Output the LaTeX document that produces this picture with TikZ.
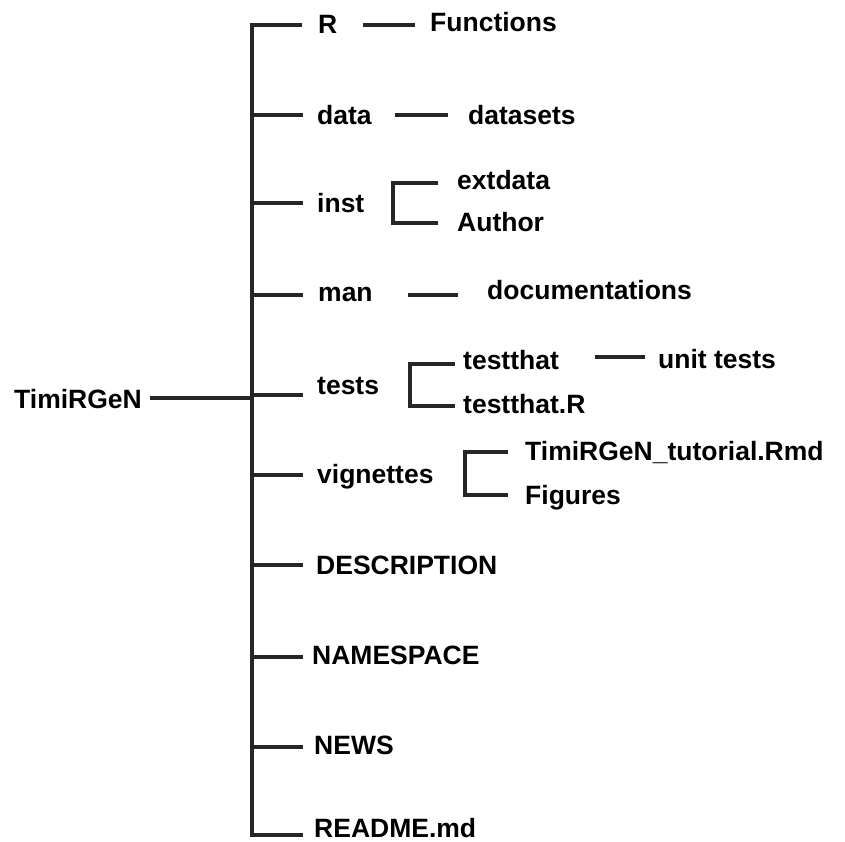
\documentclass[tikz,border=0pt]{standalone}
\usepackage{fontspec}
\setmainfont{Liberation Sans}
\begin{document}
\begin{tikzpicture}[x=1pt,y=-1pt,
  lbl/.style={anchor=base west,inner sep=0pt,font=\fontsize{26.5}{31}\selectfont\bfseries},
  edge/.style={line width=4pt,color=black!85,line cap=butt},
  trunk/.style={line width=4pt,color=black!85,line join=miter}]
\useasboundingbox (0,0) rectangle (845,842);

% root and first-level entries
\node[lbl] (root) at (14,408) {TimiRGeN};
\node[lbl] (R) at (318,34) {R};
\node[lbl] (data) at (317,125) {data};
\node[lbl] (inst) at (317,213) {inst};
\node[lbl] (man) at (318,301) {man};
\node[lbl] (tests) at (317,394) {tests};
\node[lbl] (vig) at (317,483) {vignettes};
\node[lbl] (desc) at (316,574) {DESCRIPTION};
\node[lbl] (ns) at (312,664) {NAMESPACE};
\node[lbl] (news) at (314,754) {NEWS};
\node[lbl] (readme) at (314,837) {README.md};

% second-level entries
\node[lbl] (fun) at (430,32) {Functions};
\node[lbl] (dsets) at (468,125) {datasets};
\node[lbl] (ext) at (457,190) {extdata};
\node[lbl] (auth) at (457,232) {Author};
\node[lbl] (docs) at (487,299) {documentations};
\node[lbl] (tt) at (463,369) {testthat};
\node[lbl] (ttR) at (463,413) {testthat.R};
\node[lbl] (rmd) at (525,460) {TimiRGeN\_tutorial.Rmd};
\node[lbl] (figs) at (525,504) {Figures};
\node[lbl] (unit) at (658,368) {unit tests};

% trunk coordinates
\coordinate (tTop) at (252,25);
\coordinate (tBot) at (252,835);
\coordinate (tRoot) at (252,398);

% main trunk with the top and bottom branches
\draw[trunk] (302,25) -- (tTop) -- (tBot) -- (303,835);
\draw[edge] (root.east |- tRoot) ++(8,0) -- (tRoot);

% first-level branches
\foreach \y in {115,203,295,395,475,565,657,747}
  \draw[edge] (252,\y) -- (303,\y);

% single-child links
\draw[edge] (363,25) -- (415,25);
\draw[edge] (395,115) -- (448,115);
\draw[edge] (408,295) -- (458,295);
\draw[edge] (595,357) -- (645,357);

% brackets for two-child folders
\draw[trunk] (438,183) -- (393,183) -- (393,223) -- (438,223);
\draw[trunk] (455,364) -- (410,364) -- (410,406) -- (455,406);
\draw[trunk] (508,452) -- (465,452) -- (465,495) -- (508,495);
\end{tikzpicture}
\end{document}
